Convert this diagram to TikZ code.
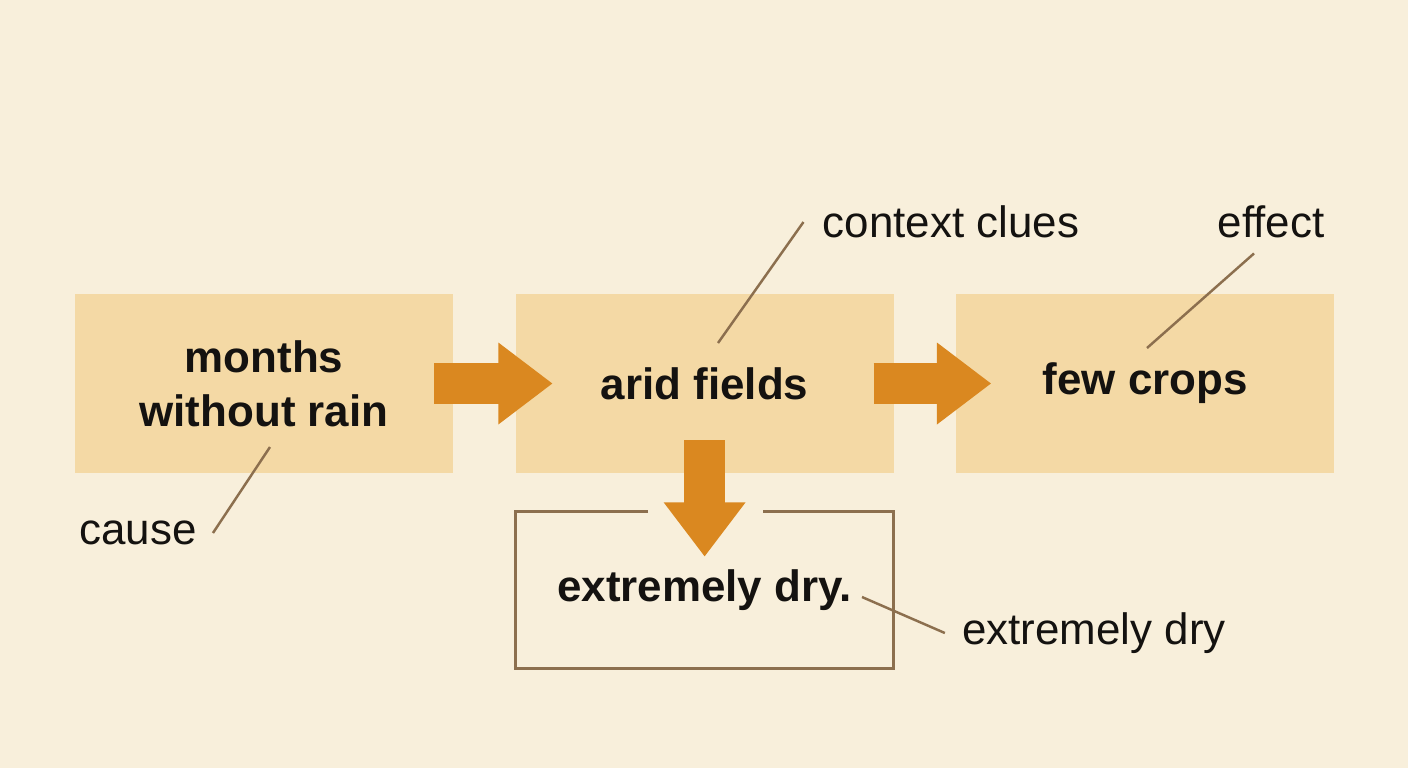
\documentclass[tikz,border=0pt]{standalone}
\usepackage{fontspec}
\setmainfont{Liberation Sans}
\usetikzlibrary{arrows.meta,positioning}
\definecolor{bgcream}{RGB}{248,239,219}
\definecolor{boxtan}{RGB}{244,217,165}
\definecolor{floworange}{RGB}{218,136,32}
\definecolor{leadbrown}{RGB}{140,111,78}
\definecolor{inkblack}{RGB}{20,18,16}

\begin{document}
\begin{tikzpicture}[
    x=0.02cm, y=-0.02cm,
    stepbox/.style={rectangle, fill=boxtan, text=inkblack, align=center,
                    minimum width=7.56cm, minimum height=3.58cm,
                    font=\fontsize{25}{30.5}\selectfont\bfseries},
    endbox/.style={rectangle, text=inkblack, minimum width=7.56cm, minimum height=3.12cm,
                   font=\fontsize{25}{30.5}\selectfont\bfseries},
    tag/.style={font=\fontsize{25}{30}\selectfont, text=inkblack, inner sep=0pt},
    flow/.style={floworange, line width=0.82cm,
                 preaction={draw, floworange, line width=0.82cm, arrows=-, shorten >=0.6cm},
                 -{Triangle[length=1.08cm, width=1.64cm, line width=0pt]}},
    leader/.style={leadbrown, line width=1.4pt},
    frame/.style={leadbrown, line width=1.7pt}
  ]
    % Background
    \fill[bgcream] (0,0) rectangle (1408,768);
    \useasboundingbox (0,0) rectangle (1408,768);

    % Chain of boxes
    \node[stepbox] (rain) at (264,383.5) {months\\without rain};
    \node[stepbox, right=1.24cm of rain] (arid) {arid fields};
    \node[stepbox, right=1.24cm of arid] (crops) {few crops};
    \node[endbox, below=0.76cm of arid] (dry) {extremely dry.};

    % Open frame round the result
    \draw[frame] ([xshift=-1.13cm]dry.north) -- (dry.north west) -- (dry.south west)
      -- (dry.south east) -- (dry.north east) -- ([xshift=1.17cm]dry.north);

    % Flow arrows
    \draw[flow] ([xshift=-0.38cm]rain.east) -- ([xshift=0.74cm]arid.west);
    \draw[flow] ([xshift=-0.40cm]arid.east) -- ([xshift=0.70cm]crops.west);
    \draw[flow] ([yshift=0.66cm]arid.south) -- ([yshift=-0.90cm]dry.north);

    % Labels
    \node[tag] (cause) at (138,533) {cause};
    \node[tag] (clues) at (951,222) {context clues};
    \node[tag] (effect) at (1271,222) {effect};
    \node[tag] (drylabel) at (1094,633) {extremely dry};

    % Leader lines
    \coordinate (causept) at (270,447);
    \coordinate (cluept) at (718,343);
    \coordinate (effectpt) at (1147,348);
    \coordinate (drypt) at (862,597);
    \draw[leader] ([xshift=0.32cm]cause.east) -- (causept);
    \draw[leader] ([xshift=-0.38cm]clues.west) -- (cluept);
    \draw[leader] ([xshift=-0.34cm,yshift=-0.3cm]effect.south) -- (effectpt);
    \draw[leader] ([xshift=-0.34cm]drylabel.west) -- (drypt);
\end{tikzpicture}
\end{document}
